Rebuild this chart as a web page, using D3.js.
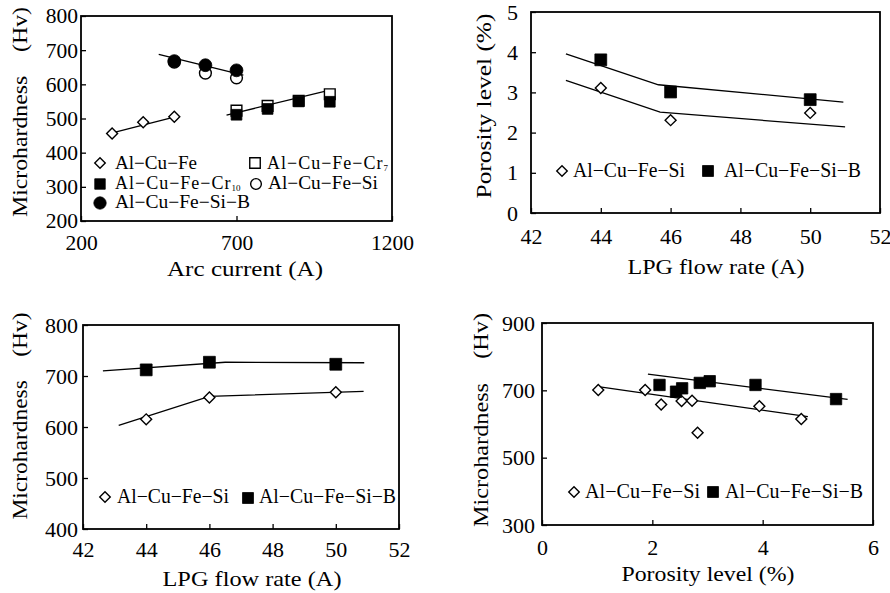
<!DOCTYPE html>
<html>
<head>
<meta charset="utf-8">
<script src="https://cdn.jsdelivr.net/npm/d3@7"></script>
<style>
  html, body { margin: 0; padding: 0; background: #fff; }
  svg { display: block; font-family: "Liberation Serif", "DejaVu Serif", serif; }
</style>
</head>
<body>
<svg id="chart" width="890" height="593"></svg>
<script>
// ---------- Panel 1: Microhardness vs Arc current ----------
const arcAlCuFe = [300, 400, 500];
const hvAlCuFe = [456, 489, 505];
const arcCr = [700, 800, 900, 1000];
const hvCr7 = [523, 537, 552, 571];
const hvCr10 = [511, 528, 550, 549];
const arcSi = [500, 600, 700];
const hvSi1 = [665, 633, 619];
const hvSiB1 = [668, 656, 641];
const fitAlCuFeX = [285, 515], fitAlCuFeY = [454, 508];
const fitCrX = [668, 1000], fitCrY = [510, 583];
const fitSiX = [450, 722], fitSiY = [688, 627];
const p1XTicks = [200, 700, 1200];
const p1YTicks = [200, 300, 400, 500, 600, 700, 800];

// ---------- Panel 2: Porosity vs LPG flow rate ----------
const lpgFlow = [44, 46, 50];
const porSi = [3.11, 2.31, 2.49];
const porSiB = [3.81, 3.01, 2.82];
const fitPorSiBX = [43, 45.65, 50.95], fitPorSiBY = [3.96, 3.19, 2.76];
const fitPorSiX = [43, 45.7, 51], fitPorSiY = [3.30, 2.51, 2.14];
const lpgTicks = [42, 44, 46, 48, 50, 52];
const porTicks = [0, 1, 2, 3, 4, 5];

// ---------- Panel 3: Microhardness vs LPG flow rate ----------
const hvSi3 = [615, 658, 668];
const hvSiB3 = [712, 727, 723];
const fitHvSiBX = [42.63, 46.5, 50.9], fitHvSiBY = [710, 727, 726];
const fitHvSiX = [43.13, 46, 50.88], fitHvSiY = [603, 660, 670];
const p3YTicks = [400, 500, 600, 700, 800];

// ---------- Panel 4: Microhardness vs Porosity ----------
const porXSi = [1.02, 1.87, 2.16, 2.53, 2.72, 2.82, 3.94, 4.70];
const hvYSi = [701, 701, 658, 668, 669, 574, 653, 615];
const porXSiB = [2.13, 2.43, 2.54, 2.86, 3.04, 3.87, 5.33];
const hvYSiB = [716, 696, 706, 722, 727, 716, 674];
const fitP4SiBX = [1.92, 5.54], fitP4SiBY = [748, 673];
const fitP4SiX = [1.05, 4.82], fitP4SiY = [710, 622];
const p4XTicks = [0, 2, 4, 6];
const p4YTicks = [300, 500, 700, 900];

const svg = d3.select("#chart");
const FONT = "Liberation Serif, DejaVu Serif, serif";
const zip = (xs, ys) => xs.map((x, i) => [x, ys[i]]);

function panel(cfg) {
  const x = d3.scaleLinear().domain(cfg.xDomain).range([cfg.left, cfg.right]);
  const y = d3.scaleLinear().domain(cfg.yDomain).range([cfg.bottom, cfg.top]);
  const g = svg.append("g");

  // axes with inward ticks
  const xa = g.append("g").attr("transform", `translate(0,${cfg.bottom})`)
    .call(d3.axisBottom(x).tickValues(cfg.xTicks).tickSizeInner(-5).tickSizeOuter(0).tickPadding(cfg.xPad).tickFormat(d3.format("d")));
  const ya = g.append("g").attr("transform", `translate(${cfg.left},0)`)
    .call(d3.axisLeft(y).tickValues(cfg.yTicks).tickSizeInner(-5).tickSizeOuter(0).tickPadding(cfg.yPad).tickFormat(d3.format("d")));
  [xa, ya].forEach(a => {
    a.select(".domain").remove();
    a.selectAll("line").attr("stroke", "#000").attr("stroke-width", 1.3);
    a.selectAll("text").attr("font-family", FONT).attr("font-size", cfg.tickFont || 22).attr("fill", "#000");
  });

  // frame
  g.append("rect").attr("x", cfg.left).attr("y", cfg.top)
    .attr("width", cfg.right - cfg.left).attr("height", cfg.bottom - cfg.top)
    .attr("fill", "none").attr("stroke", "#000").attr("stroke-width", 1.8);

  // fit lines
  const line = d3.line().x(d => x(d[0])).y(d => y(d[1]));
  cfg.lines.forEach(pts => {
    g.append("path").attr("d", line(pts)).attr("fill", "none")
      .attr("stroke", "#000").attr("stroke-width", 1.3);
  });

  // markers
  cfg.series.forEach(s => {
    g.selectAll(null).data(s.pts).enter().append("path")
      .attr("d", marker(s.shape, s.size))
      .attr("transform", d => `translate(${x(d[0])},${y(d[1])})` + (s.shape === "diamond" ? " rotate(45)" : ""))
      .attr("fill", s.filled ? "#000" : "#fff")
      .attr("stroke", "#000").attr("stroke-width", s.filled ? 0.8 : 1.4);
  });

  // titles
  g.append("text").attr("x", cfg.xTitle[0]).attr("y", cfg.xTitle[1])
    .attr("text-anchor", "middle").attr("font-family", FONT).attr("font-size", 22)
    .attr("textLength", cfg.xTitle[2]).attr("lengthAdjust", "spacingAndGlyphs")
    .text(cfg.xLabel);
  g.append("text")
    .attr("transform", `translate(${cfg.yTitle[0]},${cfg.yTitle[1]}) rotate(-90)`)
    .attr("text-anchor", "middle").attr("font-family", FONT).attr("font-size", 22)
    .attr("textLength", cfg.yTitle[2]).attr("lengthAdjust", "spacingAndGlyphs")
    .text(cfg.yLabel);

  // legend
  const lf = cfg.legendFont || 20;
  cfg.legend.forEach(L => {
    g.append("path").attr("d", marker(L.shape, L.size))
      .attr("transform", `translate(${L.mx},${L.my})` + (L.shape === "diamond" ? " rotate(45)" : ""))
      .attr("fill", L.filled ? "#000" : "#fff").attr("stroke", "#000").attr("stroke-width", L.filled ? 0.8 : 1.4);
    const t = g.append("text").attr("x", L.tx).attr("y", L.ty)
      .attr("font-family", FONT).attr("font-size", lf).attr("fill", "#000");
    if (L.sub) {
      t.append("tspan").attr("letter-spacing", 1).text(L.text);
      t.append("tspan").attr("font-size", 9).attr("dy", 2).text(L.sub);
    } else {
      t.attr("textLength", L.len).attr("lengthAdjust", "spacingAndGlyphs").text(L.text);
    }
  });
}

function marker(shape, size) {
  if (shape === "circle") return d3.symbol(d3.symbolCircle, size)();
  return d3.symbol(d3.symbolSquare, size)();
}

const D = "\u2212";

// Panel 1
panel({
  left: 81, right: 392, top: 16, bottom: 221,
  xDomain: [200, 1200], yDomain: [200, 800],
  xTicks: p1XTicks, yTicks: p1YTicks, xPad: 14, yPad: 3, tickFont: 21.5,
  xLabel: "Arc current (A)", xTitle: [245, 276, 156],
  yLabel: "Microhardness\u3000(Hv)", yTitle: [27, 112, 210],
  lines: [zip(fitAlCuFeX, fitAlCuFeY), zip(fitCrX, fitCrY), zip(fitSiX, fitSiY)],
  series: [
    { pts: zip(arcAlCuFe, hvAlCuFe), shape: "diamond", size: 60, filled: false },
    { pts: zip(arcCr, hvCr7), shape: "square", size: 115, filled: false },
    { pts: zip(arcCr, hvCr10), shape: "square", size: 115, filled: true },
    { pts: zip(arcSi, hvSi1), shape: "circle", size: 110, filled: false },
    { pts: zip(arcSi, hvSiB1), shape: "circle", size: 130, filled: true }
  ],
  legendFont: 18,
  legend: [
    { shape: "diamond", size: 55, filled: false, mx: 100, my: 163, tx: 115, ty: 169, text: `Al${D}Cu${D}Fe`, len: 82 },
    { shape: "square", size: 110, filled: false, mx: 255, my: 163, tx: 267, ty: 169, text: `Al${D}Cu${D}Fe${D}Cr`, sub: "7" },
    { shape: "square", size: 110, filled: true, mx: 100, my: 184, tx: 115, ty: 189, text: `Al${D}Cu${D}Fe${D}Cr`, sub: "10" },
    { shape: "circle", size: 90, filled: false, mx: 256, my: 184, tx: 268, ty: 189, text: `Al${D}Cu${D}Fe${D}Si`, len: 110 },
    { shape: "circle", size: 120, filled: true, mx: 100, my: 203, tx: 115, ty: 208, text: `Al${D}Cu${D}Fe${D}Si${D}B`, len: 135 }
  ]
});

// Panel 2
panel({
  left: 531, right: 880, top: 12, bottom: 213,
  xDomain: [42, 52], yDomain: [0, 5],
  xTicks: lpgTicks, yTicks: porTicks, xPad: 15, yPad: 13,
  xLabel: "LPG flow rate (A)", xTitle: [716, 274, 177],
  yLabel: "Porosity level (%)", yTitle: [491, 106, 185],
  lines: [zip(fitPorSiBX, fitPorSiBY), zip(fitPorSiX, fitPorSiY)],
  series: [
    { pts: zip(lpgFlow, porSi), shape: "diamond", size: 60, filled: false },
    { pts: zip(lpgFlow, porSiB), shape: "square", size: 140, filled: true }
  ],
  legend: [
    { shape: "diamond", size: 55, filled: false, mx: 562, my: 171, tx: 573, ty: 177, text: `Al${D}Cu${D}Fe${D}Si`, len: 112 },
    { shape: "square", size: 120, filled: true, mx: 708, my: 171, tx: 724, ty: 177, text: `Al${D}Cu${D}Fe${D}Si${D}B`, len: 137 }
  ]
});

// Panel 3
panel({
  left: 83, right: 399, top: 325, bottom: 529,
  xDomain: [42, 52], yDomain: [400, 800],
  xTicks: lpgTicks, yTicks: p3YTicks, xPad: 12, yPad: 5,
  xLabel: "LPG flow rate (A)", xTitle: [252, 586, 179],
  yLabel: "Microhardness\u3000(Hv)", yTitle: [27, 416, 207],
  lines: [zip(fitHvSiBX, fitHvSiBY), zip(fitHvSiX, fitHvSiY)],
  series: [
    { pts: zip(lpgFlow, hvSi3), shape: "diamond", size: 60, filled: false },
    { pts: zip(lpgFlow, hvSiB3), shape: "square", size: 140, filled: true }
  ],
  legend: [
    { shape: "diamond", size: 55, filled: false, mx: 105, my: 497, tx: 117, ty: 503, text: `Al${D}Cu${D}Fe${D}Si`, len: 112 },
    { shape: "square", size: 120, filled: true, mx: 248, my: 498, tx: 259, ty: 503, text: `Al${D}Cu${D}Fe${D}Si${D}B`, len: 137 }
  ]
});

// Panel 4
panel({
  left: 542, right: 873, top: 323, bottom: 525,
  xDomain: [0, 6], yDomain: [300, 900],
  xTicks: p4XTicks, yTicks: p4YTicks, xPad: 14, yPad: 7,
  xLabel: "Porosity level (%)", xTitle: [708, 581, 173],
  yLabel: "Microhardness\u3000(Hv)", yTitle: [488, 420, 214],
  lines: [zip(fitP4SiBX, fitP4SiBY), zip(fitP4SiX, fitP4SiY)],
  series: [
    { pts: zip(porXSi, hvYSi), shape: "diamond", size: 60, filled: false },
    { pts: zip(porXSiB, hvYSiB), shape: "square", size: 130, filled: true }
  ],
  legend: [
    { shape: "diamond", size: 55, filled: false, mx: 574, my: 492, tx: 585, ty: 498, text: `Al${D}Cu${D}Fe${D}Si`, len: 115 },
    { shape: "square", size: 120, filled: true, mx: 713, my: 492, tx: 725, ty: 498, text: `Al${D}Cu${D}Fe${D}Si${D}B`, len: 138 }
  ]
});
</script>
</body>
</html>
